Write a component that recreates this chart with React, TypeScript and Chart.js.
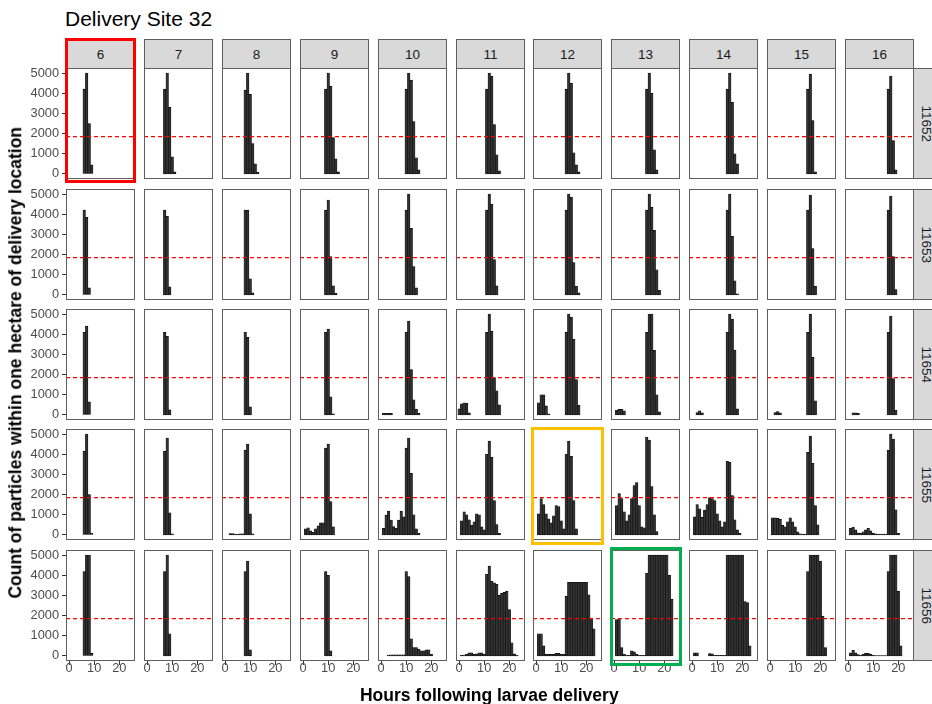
import React, { useEffect, useRef } from "react";
import { Chart, registerables } from "chart.js";

Chart.register(...registerables);

const FONT = '"Liberation Sans", Arial, Helvetica, sans-serif';

// ---------------- data ----------------
const plotTitle = "Delivery Site 32";
const xAxisTitle = "Hours following larvae delivery";
const yAxisTitle = "Count of particles within one hectare of delivery location";
const hourColumns = ["6", "7", "8", "9", "10", "11", "12", "13", "14", "15", "16"];
const siteRows = ["11652", "11653", "11654", "11655", "11656"];
const yTicks = [0, 1000, 2000, 3000, 4000, 5000];
const xTicks = [0, 10, 20];
const thresholdCount = 1850;
const xLimits = [-1.25, 26.25];
const yLimits = [-250, 5250];

// each panel: list of [first hour bin, counts of consecutive 1-hour bins]
type Segment = [number, number[]];

const site11652: Segment[][] = [
  [[6, [4200, 5000, 2500, 450]]],
  [[7, [4200, 5000, 3300, 850, 100]]],
  [[8, [4150, 5000, 3950, 1500, 500, 80]]],
  [[9, [4200, 5000, 4350, 1800, 750, 100]]],
  [[10, [4200, 5000, 4650, 2600, 800, 200]]],
  [[11, [4200, 5000, 4850, 2450, 950, 150]]],
  [[12, [4200, 5000, 4500, 1050, 450, 100]]],
  [[13, [4200, 5000, 4000, 1200, 200]]],
  [[14, [4200, 5000, 3550, 1000, 500]]],
  [[15, [4200, 4950, 2650, 100]]],
  [[16, [4200, 4850, 1650, 200]]],
];

const site11653: Segment[][] = [
  [[6, [4200, 3850, 350]]],
  [[7, [4200, 3900, 400]]],
  [[8, [4200, 4200, 800, 100]]],
  [[9, [4200, 4700, 1900, 450, 80]]],
  [[10, [4200, 5000, 3300, 1400, 350]]],
  [[11, [4200, 5000, 4500, 1750, 450]]],
  [[12, [4200, 5000, 4850, 1600, 430, 100]]],
  [[13, [4200, 5000, 4350, 3200, 1250, 230]]],
  [[14, [4200, 5000, 2900, 700, 50]]],
  [[15, [4200, 4950, 2300, 430]]],
  [[16, [4200, 4900, 1900, 270]]],
];

const site11654: Segment[][] = [
  [[6, [4100, 4400, 650]]],
  [[7, [4100, 3900, 250]]],
  [[8, [4100, 3850, 400]]],
  [[9, [4100, 4250, 900, 60]]],
  [[1, [80, 80, 80, 80]], [10, [4100, 4650, 2250, 750, 280, 80]]],
  [[0, [300, 550, 600, 580, 100]], [11, [4100, 5000, 4150, 1850, 1200, 500]]],
  [[1, [600, 1000, 1000, 450, 60]], [12, [4100, 5000, 4850, 3750, 1750, 480]]],
  [[1, [230, 280, 280, 200]], [13, [4100, 5000, 5000, 3200, 1000, 150]]],
  [[2, [120, 200, 100]], [14, [4100, 5000, 4750, 3200, 300]]],
  [[2, [120, 170, 100]], [15, [4100, 5000, 2850, 700]]],
  [[2, [110, 110, 80]], [16, [4100, 4900, 1800, 230]]],
];

const site11655: Segment[][] = [
  [[6, [4150, 5000, 2000, 80]]],
  [[7, [4150, 4800, 1100, 50]]],
  [[2, [70, 70, 40, 30, 50, 60]], [8, [4200, 4500, 1050, 60]]],
  [[1, [300, 350, 200, 130, 300, 450, 600, 600]], [9, [4300, 4500, 1650, 400]]],
  [[1, [330, 980, 1180, 740, 410, 330, 740, 1180, 900]], [10, [4300, 4800, 3050, 1000, 300, 80]]],
  [[1, [700, 1150, 1000, 750, 480, 650, 1050, 1000, 400, 250]], [11, [4000, 4650, 3850, 1700, 520, 80]]],
  [[1, [1050, 1800, 1500, 1050, 800, 600, 950, 1450, 1400, 700, 300]], [12, [4000, 4650, 3900, 1700, 300]]],
  [[1, [1450, 2050, 1800, 1150, 700, 1000, 1800, 2450, 2600, 1450, 400, 350]], [13, [4850, 4700, 2400, 1000, 170]]],
  [[1, [900, 1500, 1300, 870, 1230, 1500, 1850, 1800, 1700, 1050, 700, 400, 650]], [14, [3650, 3600, 1950, 750, 250, 80]]],
  [[1, [850, 850, 820, 770, 480, 400, 650, 850, 650, 400, 160, 60, 40, 40]], [15, [4100, 4900, 3550, 1450, 500]]],
  [[1, [330, 390, 250, 110, 80, 160, 250, 330, 200, 80, 50, 40, 40, 40, 40]], [16, [4200, 5000, 4750, 1250, 80]]],
];

const site11656: Segment[][] = [
  [[6, [4180, 5000, 5000, 130]]],
  [[7, [4180, 5000, 1100]]],
  [[8, [4180, 4700, 300]]],
  [[9, [4180, 4000, 250]]],
  [[3, [40, 60, 60, 60, 60, 60, 60]], [10, [4180, 3930, 850, 420, 420, 330, 250, 250, 300, 300, 80]]],
  [[1, [40, 40, 80, 150, 150, 80, 100, 160, 160, 80]], [11, [4050, 4450, 3700, 3620, 3550, 3000, 3100, 3150, 3200, 2300, 650, 100, 30]]],
  [[1, [1100, 1100, 500, 80, 80, 80, 80, 130, 130, 80, 80]], [12, [2950, 3650, 3650, 3650, 3650, 3650, 3650, 3650, 3650, 3030, 1880, 1350]]],
  [[1, [1800, 1850, 410, 80, 30, 30, 250, 200, 80, 30, 30, 30]], [13, [4100, 5000, 5000, 5000, 5000, 5000, 5000, 5000, 5000, 4000, 2800]]],
  [[1, [150, 150, 0, 0, 0, 0, 120, 100, 30, 30, 30, 30, 30]], [14, [5000, 5000, 5000, 5000, 5000, 5000, 5000, 2700, 2650, 500]]],
  [[15, [4180, 5000, 5000, 5000, 5000, 4700, 1980, 410]]],
  [[1, [160, 280, 160, 70, 30, 80, 130, 130, 80, 30, 20, 20, 20, 20, 20]], [16, [4180, 5000, 5000, 5000, 3200, 500]]],
];

const siteData = [site11652, site11653, site11654, site11655, site11656];

// ---------------- layout ----------------
const PW = 69;
const PH = 111;
const STRIP_TOP = 39;
const STRIP_H = 30;
const EXT = 4;
const Y_AXIS_W = 66;
const X_AXIS_H = 34;
const colLeft = (i: number) => Math.round(66 + 77.9 * i);
const rowTop = (j: number) => Math.round(68.3 + 120.35 * j);

const frames = [
  { left: 65, top: 38, width: 71, height: 145, color: "#ff0000" },
  { left: 531, top: 427, width: 73, height: 118, color: "#ffc000" },
  { left: 610, top: 547, width: 72, height: 119, color: "#00b050" },
];

function Panel({ row, col }: { row: number; col: number }) {
  const ref = useRef<HTMLCanvasElement>(null);
  const isLeft = col === 0;
  const isBottom = row === siteRows.length - 1;
  const L = colLeft(col);
  const T = rowTop(row);
  const extL = isLeft ? Y_AXIS_W : EXT;
  const cw = extL + PW + EXT;
  const ch = PH + (isBottom ? X_AXIS_H : 0);

  useEffect(() => {
    const canvas = ref.current;
    if (!canvas) return;
    const points = siteData[row][col].flatMap(([start, counts]) =>
      counts.map((c, i) => ({ x: start + i, y: c }))
    );
    const chart = new Chart(canvas, {
      type: "bar",
      data: {
        datasets: [
          {
            type: "line",
            data: [
              { x: xLimits[0], y: thresholdCount },
              { x: xLimits[1], y: thresholdCount },
            ],
            borderColor: "#ff0000",
            borderWidth: 1.1,
            borderDash: [4, 3],
            pointRadius: 0,
            order: 0,
          } as any,
          {
            type: "bar",
            data: points,
            backgroundColor: "#333333",
            borderColor: "#000000",
            borderWidth: 0.6,
            borderSkipped: false,
            barPercentage: 1,
            categoryPercentage: 1,
            order: 1,
          } as any,
        ],
      },
      options: {
        responsive: false,
        animation: false,
        events: [],
        devicePixelRatio: 1,
        layout: { padding: { left: isLeft ? 0 : EXT, right: EXT, top: 0, bottom: 0 } },
        plugins: {
          legend: { display: false },
          tooltip: { enabled: false },
          title: { display: false },
        },
        scales: {
          x: {
            type: "linear",
            min: xLimits[0],
            max: xLimits[1],
            bounds: "data",
            offset: false,
            display: isBottom,
            position: "bottom",
            afterBuildTicks: (s: any) => {
              s.ticks = xTicks.map((v) => ({ value: v }));
            },
            afterFit: (s: any) => {
              if (!isBottom) return;
              s.height = X_AXIS_H;
              s.paddingLeft = 0;
              s.paddingRight = 0;
            },
            grid: {
              offset: false,
              drawOnChartArea: false,
              drawTicks: true,
              tickLength: 4,
              color: "#333333",
              lineWidth: 1,
            },
            border: { display: false },
            ticks: {
              padding: -4,
              color: "#4d4d4d",
              font: { family: FONT, size: 12.8 },
              maxRotation: 0,
              autoSkip: false,
              callback: (v: any) => String(v),
            },
          },
          y: {
            type: "linear",
            min: yLimits[0],
            max: yLimits[1],
            bounds: "data",
            display: isLeft,
            position: "left",
            afterBuildTicks: (s: any) => {
              s.ticks = yTicks.map((v) => ({ value: v }));
            },
            afterFit: (s: any) => {
              if (!isLeft) return;
              s.width = Y_AXIS_W;
              s.paddingTop = 0;
              s.paddingBottom = 0;
            },
            grid: {
              drawOnChartArea: false,
              drawTicks: true,
              tickLength: 4,
              color: "#333333",
              lineWidth: 1,
            },
            border: { display: false },
            ticks: {
              padding: 3,
              color: "#4d4d4d",
              font: { family: FONT, size: 12.8 },
              autoSkip: false,
              callback: (v: any) => String(v),
            },
          },
        },
      } as any,
    });
    return () => chart.destroy();
  }, [row, col]);

  return (
    <>
      <canvas
        ref={ref}
        width={cw}
        height={ch}
        style={{ position: "absolute", left: L - extL, top: T, width: cw, height: ch }}
      />
      <div
        style={{
          position: "absolute",
          left: L,
          top: T,
          width: PW,
          height: PH,
          border: "1px solid #5f5f5f",
          boxSizing: "border-box",
          pointerEvents: "none",
        }}
      />
    </>
  );
}

function RotText(props: {
  cx: number;
  cy: number;
  angle?: number;
  size: number;
  weight?: string;
  color: string;
  children: React.ReactNode;
}) {
  const w = 700;
  return (
    <div
      style={{
        position: "absolute",
        left: props.cx - w / 2,
        top: props.cy - props.size / 2,
        width: w,
        height: props.size,
        lineHeight: `${props.size}px`,
        fontSize: props.size,
        fontWeight: (props.weight || "normal") as any,
        color: props.color,
        textAlign: "center",
        whiteSpace: "nowrap",
        fontFamily: FONT,
        transform: `rotate(${props.angle || 0}deg)`,
      }}
    >
      {props.children}
    </div>
  );
}

export default function App() {
  return (
    <div
      style={{
        position: "absolute",
        left: 0,
        top: 0,
        width: 932,
        height: 704,
        overflow: "hidden",
        background: "#ffffff",
        fontFamily: FONT,
      }}
    >
      <div
        style={{
          position: "absolute",
          left: 65,
          top: 8,
          fontSize: 21,
          lineHeight: "21px",
          color: "#000",
          whiteSpace: "nowrap",
        }}
      >
        {plotTitle}
      </div>

      {hourColumns.map((h, c) => (
        <React.Fragment key={"s" + h}>
          <div
            style={{
              position: "absolute",
              left: colLeft(c),
              top: STRIP_TOP,
              width: PW,
              height: STRIP_H,
              background: "#d9d9d9",
              border: "1px solid #5f5f5f",
              boxSizing: "border-box",
            }}
          />
          <RotText cx={colLeft(c) + PW / 2} cy={55} size={13.5} color="#1a1a1a">
            {h}
          </RotText>
        </React.Fragment>
      ))}

      {siteRows.map((s, r) => (
        <React.Fragment key={"r" + s}>
          <div
            style={{
              position: "absolute",
              left: colLeft(10) + PW - 1,
              top: rowTop(r),
              width: 30,
              height: PH,
              background: "#d9d9d9",
              border: "1px solid #5f5f5f",
              boxSizing: "border-box",
            }}
          />
          <RotText cx={926} cy={rowTop(r) + PH / 2} angle={90} size={13.5} color="#1a1a1a">
            {s}
          </RotText>
        </React.Fragment>
      ))}

      {siteRows.map((s, r) =>
        hourColumns.map((h, c) => <Panel key={s + "-" + h} row={r} col={c} />)
      )}

      <RotText cx={16.4} cy={363} angle={-90} size={17.5} weight="bold" color="#000">
        {yAxisTitle}
      </RotText>
      <RotText cx={489.3} cy={696} size={17.5} weight="bold" color="#000">
        {xAxisTitle}
      </RotText>

      {frames.map((f, i) => (
        <div
          key={"f" + i}
          style={{
            position: "absolute",
            left: f.left,
            top: f.top,
            width: f.width,
            height: f.height,
            border: `3px solid ${f.color}`,
            boxSizing: "border-box",
            pointerEvents: "none",
          }}
        />
      ))}
    </div>
  );
}
